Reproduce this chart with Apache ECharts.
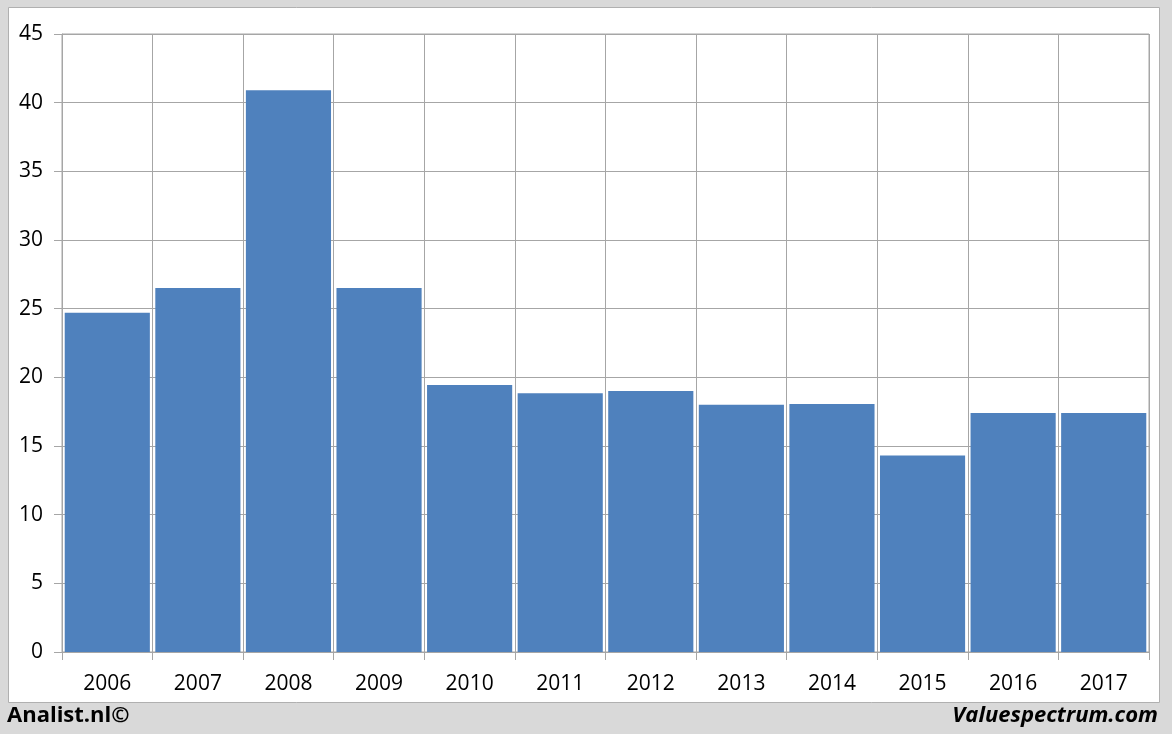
<!DOCTYPE html>
<html><head><meta charset="utf-8">
<script src="https://cdn.jsdelivr.net/npm/echarts@6/dist/echarts.min.js"></script>
<style>html,body{margin:0;padding:0;background:#d9d9d9;}#c{width:1172px;height:734px;}</style>
</head><body><div id="c"></div>
<script>
const categories = ['2006','2007','2008','2009','2010','2011','2012','2013','2014','2015','2016','2017'];
const values = [24.7, 26.5, 40.9, 26.5, 19.45, 18.85, 19.0, 18.0, 18.05, 14.3, 17.4, 17.4];
const yTicks = {min: 0, max: 45, interval: 5};
const footerLeft = 'Analist.nl©';
const footerRight = 'Valuespectrum.com';

const chart = echarts.init(document.getElementById('c'));
chart.setOption({
  backgroundColor: '#d9d9d9',
  animation: false,
  graphic: [
    {type:'rect', shape:{x:8.5,y:7.5,width:1151,height:695}, style:{fill:'#ffffff', stroke:'#b0b0b0', lineWidth:1}, z:-10},
    {type:'text', left:7, top:705, style:{text:footerLeft, font:'bold 22px "Open Sans", sans-serif', fill:'#000'}},
    {type:'text', right:14, top:705, style:{text:footerRight, font:'italic bold 22px "Open Sans", sans-serif', fill:'#000'}}
  ],
  grid: {left:62, right:23, top:34, bottom:82, show:true, borderColor:'#a6a6a6', borderWidth:1, backgroundColor:'transparent'},
  xAxis: {
    type:'category', data:categories,
    axisLine:{show:true, lineStyle:{color:'#a6a6a6'}},
    axisTick:{show:true, length:8, lineStyle:{color:'#a6a6a6'}},
    splitLine:{show:true, lineStyle:{color:'#a6a6a6'}},
    axisLabel:{color:'#000', fontSize:21, fontFamily:'"Open Sans", sans-serif', margin:22}
  },
  yAxis: {
    type:'value', min:yTicks.min, max:yTicks.max, interval:yTicks.interval,
    axisLine:{show:true, lineStyle:{color:'#a6a6a6'}},
    axisTick:{show:true, length:8, lineStyle:{color:'#a6a6a6'}},
    splitLine:{show:true, lineStyle:{color:'#a6a6a6'}},
    axisLabel:{color:'#000', fontSize:21, fontFamily:'"Open Sans", sans-serif', margin:19}
  },
  series: [{
    type:'bar', data:values, barCategoryGap:'6%',
    itemStyle:{color:'#4f81bd'}
  }]
});
</script></body></html>
